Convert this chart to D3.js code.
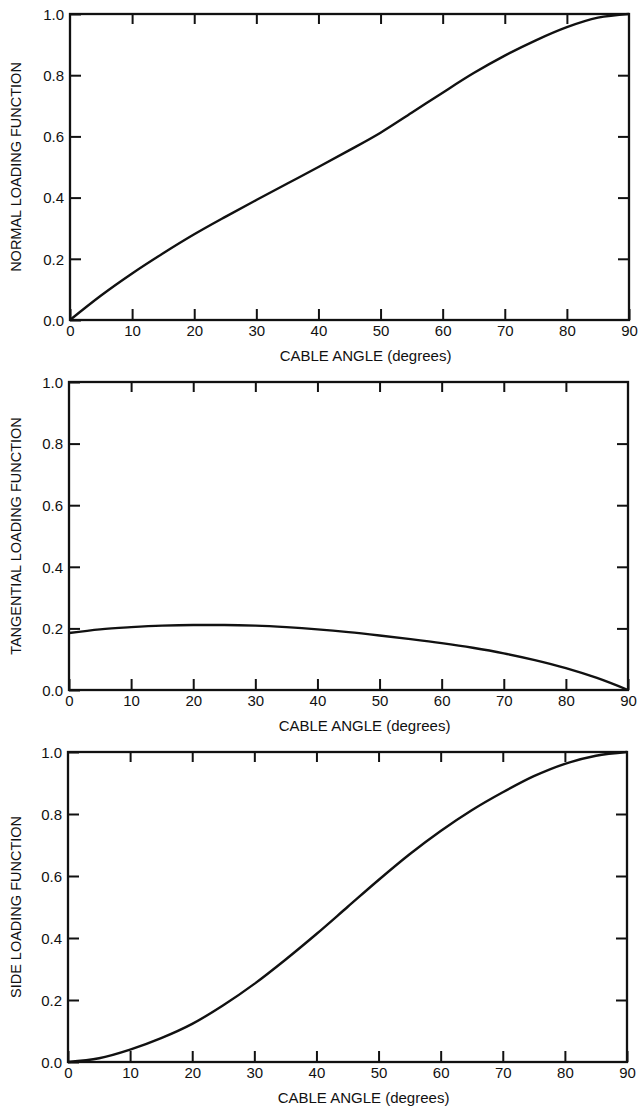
<!DOCTYPE html>
<html>
<head>
<meta charset="utf-8">
<script src="https://cdn.jsdelivr.net/npm/d3@7"></script>
<style>
  body { margin: 0; background: #fff; }
  svg { display: block; }
  text { font-family: "Liberation Sans", Arial, sans-serif; fill: #111; }
</style>
</head>
<body>
<div id="chart"></div>
<script>
// cable angle, degrees
const angles = [0, 5, 10, 15, 20, 25, 30, 35, 40, 45, 50, 55, 60, 65, 70, 75, 80, 85, 90];

// values
const normalLoading     = [0, 0.08, 0.152, 0.218, 0.28, 0.337, 0.392, 0.446, 0.50, 0.555, 0.612, 0.677, 0.743, 0.807, 0.864, 0.914, 0.957, 0.988, 1.0];
const tangentialLoading = [0.185, 0.197, 0.204, 0.209, 0.211, 0.211, 0.209, 0.204, 0.197, 0.188, 0.177, 0.165, 0.152, 0.137, 0.119, 0.097, 0.071, 0.039, 0];
const sideLoading       = [0, 0.012, 0.04, 0.077, 0.123, 0.183, 0.252, 0.33, 0.413, 0.5, 0.587, 0.67, 0.745, 0.812, 0.87, 0.922, 0.962, 0.988, 1.0];

const xTicks = [0, 10, 20, 30, 40, 50, 60, 70, 80, 90];
const yTicks = [0, 0.2, 0.4, 0.6, 0.8, 1.0];
const xTitle = "CABLE ANGLE (degrees)";

const panels = [
  { label: "NORMAL LOADING FUNCTION", values: normalLoading, left: 70, right: 629, top: 14, bottom: 320 },
  { label: "TANGENTIAL LOADING FUNCTION", values: tangentialLoading, left: 69, right: 628, top: 382, bottom: 690 },
  { label: "SIDE LOADING FUNCTION", values: sideLoading, left: 68, right: 627, top: 752, bottom: 1062 }
];

const width = 642, height = 1107;

const svg = d3.select("#chart")
  .append("svg")
  .attr("width", width)
  .attr("height", height);

panels.forEach(p => {
  const x = d3.scaleLinear().domain([0, 90]).range([p.left, p.right]);
  const y = d3.scaleLinear().domain([0, 1]).range([p.bottom, p.top]);

  const g = svg.append("g");

  // bottom axis with labels, ticks pointing inward
  const bottomAxis = g.append("g")
    .attr("transform", `translate(0,${p.bottom})`)
    .call(d3.axisBottom(x).tickValues(xTicks).tickSize(-11).tickPadding(7).tickFormat(d3.format("d")));

  // top ticks only
  g.append("g")
    .attr("transform", `translate(0,${p.top})`)
    .call(d3.axisTop(x).tickValues(xTicks.slice(1, -1)).tickSize(-10).tickFormat(""));

  // left axis with labels
  const leftAxis = g.append("g")
    .attr("transform", `translate(${p.left},0)`)
    .call(d3.axisLeft(y).tickValues(yTicks).tickSize(-11).tickPadding(6).tickFormat(d3.format(".1f")));

  // right ticks only
  g.append("g")
    .attr("transform", `translate(${p.right},0)`)
    .call(d3.axisRight(y).tickValues(yTicks.slice(1, -1)).tickSize(-11).tickFormat(""));

  g.selectAll(".domain").remove();
  g.selectAll(".tick line").attr("stroke", "#111").attr("stroke-width", 2);
  g.selectAll(".tick text").attr("font-size", 15).attr("font-family", "Liberation Sans, Arial, sans-serif").attr("fill", "#111");
  bottomAxis.selectAll(".tick text").attr("dy", "0.6em");
  leftAxis.selectAll(".tick text").attr("dy", "0.35em");

  // frame
  g.append("rect")
    .attr("x", p.left)
    .attr("y", p.top)
    .attr("width", p.right - p.left)
    .attr("height", p.bottom - p.top)
    .attr("fill", "none")
    .attr("stroke", "#111")
    .attr("stroke-width", 2.3);

  // curve
  const line = d3.line()
    .x((d, i) => x(angles[i]))
    .y(d => y(d))
    .curve(d3.curveMonotoneX);

  g.append("path")
    .datum(p.values)
    .attr("d", line)
    .attr("fill", "none")
    .attr("stroke", "#111")
    .attr("stroke-width", 2.4);

  // axis titles
  g.append("text")
    .attr("x", x(45) + 16)
    .attr("y", p.bottom + 41)
    .attr("text-anchor", "middle")
    .attr("font-size", 15)
    .text(xTitle);

  g.append("text")
    .attr("transform", `translate(21,${(p.top + p.bottom) / 2}) rotate(-90)`)
    .attr("text-anchor", "middle")
    .attr("font-size", 14.5)
    .text(p.label);
});
</script>
</body>
</html>
